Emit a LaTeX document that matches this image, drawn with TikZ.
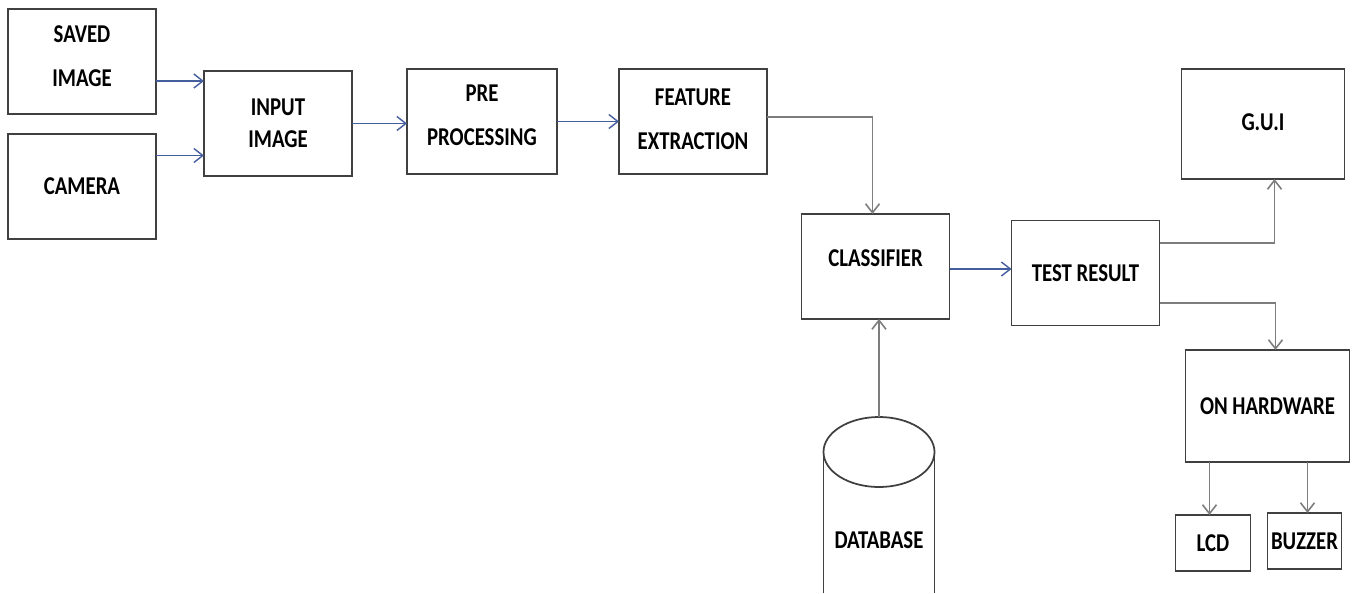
\documentclass[tikz,border=0pt]{standalone}
\usepackage{fontspec}
\newfontfamily\blockfont{Carlito}[FakeStretch=0.81]
\usetikzlibrary{arrows.meta, positioning}
\definecolor{flowblue}{RGB}{68,94,158}
\definecolor{flowgray}{RGB}{125,125,125}
\definecolor{edgegray}{RGB}{64,64,64}
\tikzset{
  block/.style={rectangle, draw=edgegray, line width=1pt, minimum width=29.6mm, minimum height=21mm, inner sep=0pt, outer sep=0pt, align=center, font=\blockfont\bfseries\fontsize{14.6pt}{25pt}\selectfont},
  lift/.style={text depth=#1},
  dblabel/.style={inner sep=0pt, font=\blockfont\bfseries\fontsize{14.6pt}{25pt}\selectfont},
  blueflow/.style={-{Straight Barb[length=1.8mm, width=2.8mm]}, draw=flowblue, line width=0.8pt},
  grayflow/.style={-{Straight Barb[length=1.8mm, width=2.8mm]}, draw=flowgray, line width=0.9pt},
  dbwall/.style={draw=edgegray, line width=1pt},
}

\begin{document}
\begin{tikzpicture}
  \useasboundingbox (0,0) rectangle (271.4mm,-118.6mm);

  % Image sources and the processing chain
  \node[block, lift=2mm] (saved) at (16.4mm,-12.3mm) {SAVED\\IMAGE};
  \node[block, below=4mm of saved] (camera) {CAMERA};
  \node[block, right=9.6mm of saved, yshift=-12.4mm] (input) {INPUT\\[-6.8pt]IMAGE};
  \node[block, lift=2.4mm, minimum width=30mm, right=11mm of input, yshift=0.4mm] (pre) {PRE\\PROCESSING};
  \node[block, lift=0.8mm, right=12.4mm of pre] (feature) {FEATURE\\EXTRACTION};
  \node[block, lift=3.2mm, below=8mm of feature, xshift=36.5mm] (classifier) {CLASSIFIER};
  \node[block, right=12.4mm of classifier, yshift=-1.3mm] (test) {TEST RESULT};

  % Outputs
  \node[block, lift=0.8mm, minimum width=32.6mm, minimum height=22mm, right=4.4mm of test, yshift=29.8mm] (gui) {G.U.I};
  \node[block, minimum width=32.8mm, minimum height=22.4mm, below=34.2mm of gui, xshift=0.9mm] (hardware) {ON HARDWARE};
  \node[block, minimum width=15mm, minimum height=11.2mm, below=10.6mm of hardware, xshift=-10.9mm] (lcd) {LCD};
  \node[block, minimum width=14.8mm, minimum height=11.2mm, right=3.4mm of lcd, yshift=0.4mm] (buzzer) {BUZZER};

  % Database drum, open at the bottom edge
  \node[dblabel] (database) at ([xshift=0.7mm, yshift=-44.2mm]classifier.south) {DATABASE};
  \coordinate (dbtop) at ([yshift=24.6mm]database.center);
  \draw[dbwall] ([yshift=17.6mm]database.center) ellipse [x radius=11.1mm, y radius=7mm];
  \draw[dbwall] ([xshift=-11.1mm, yshift=17.6mm]database.center) -- ++(0,-28.2mm);
  \draw[dbwall] ([xshift=11.1mm, yshift=17.6mm]database.center) -- ++(0,-28.2mm);

  % Arrows
  \draw[blueflow] ([yshift=-3.9mm]saved.east) coordinate (s1) -- (s1 -| input.west);
  \draw[blueflow] ([yshift=6.2mm]camera.east) coordinate (s2) -- (s2 -| input.west);
  \draw[blueflow] (input.east) -- (input.east -| pre.west);
  \draw[blueflow] (pre.east) -- (pre.east -| feature.west);
  \draw[grayflow] ([yshift=0.9mm]feature.east) -| ([xshift=-0.6mm]classifier.north);
  \draw[grayflow] (dbtop) -- (dbtop |- classifier.south);
  \draw[blueflow] ([yshift=-0.5mm]classifier.east) coordinate (c1) -- (c1 -| test.west);
  \draw[grayflow] ([yshift=6mm]test.east) -| ([xshift=2.3mm]gui.south);
  \draw[grayflow] ([yshift=-6mm]test.east) -| ([xshift=1.6mm]hardware.north);
  \coordinate (l1) at ([xshift=-0.7mm]lcd.north);
  \coordinate (b1) at ([xshift=0.6mm]buzzer.north);
  \draw[grayflow] (l1 |- hardware.south) -- (l1);
  \draw[grayflow] (b1 |- hardware.south) -- (b1);
\end{tikzpicture}
\end{document}
